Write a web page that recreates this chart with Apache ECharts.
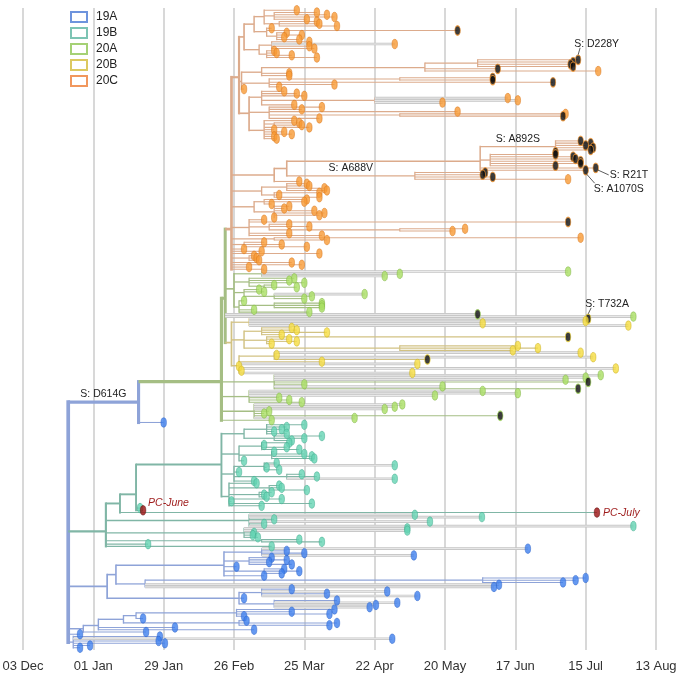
<!DOCTYPE html>
<html><head><meta charset="utf-8">
<script src="https://cdn.jsdelivr.net/npm/echarts/dist/echarts.min.js"></script>
<style>html,body{margin:0;padding:0;background:#fff}#c{width:683px;height:676px}</style>
</head><body><div id="c"></div>
<script>
// ---------- DATA ----------
// x values are days after 03 Dec; a tip is a number (date) or "date+flags@label";
// flags: k = spike-mutation (black) tip, g = grey branch, r = PC sample; "#clade" sets clade, "@text" labels a branch
const tickLabels = ['03 Dec','01 Jan','29 Jan','26 Feb','25 Mar','22 Apr','20 May','17 Jun','15 Jul','13 Aug'];
const cladeNames = ['19A','19B','20A','20B','20C'];

const c20C_U1 = [88,
  [92, [96, 109, [100, 117, 121, 124, 113], [102, 117, 118, 125]], [97, 99, "173k", [101, 105, 111, 104, 110]]],
  [94, [99, 114, "148g", 114, 116], [97, 100, 101, 107, 117]]
];
const c20C_U2 = [87,
  [95, [160, [181, "221k@S: D228Y", "219k", "218k", "219k"], "189k", 229], 106, 106],
  [98, [150, "187k", "187k"], "211k", 124, 102],
  88
];
const c20C_U3 = [90,
  [95, 104, 109, 112, [140, "193g", "197g", "167g"], 108],
  [98, 119, 111, 173, [150, 216, "215k"], 118],
  [96, 108, [100, 110, 111], 114, 100, 104, 107, 100, 101]
];
const c20C_M = [100,
  [105,
    [182,
      [212, '@S: A892S', "222k", "226k", "224k", "227k", "226k", "212k"],
      [186, "212k", "219k", "220k", "222k", "222k", "212k"],
      "228k@S: R21T", "224k@S: A1070S"],
    [156, '@S: A688V', "184k", "183k", "187k", 217]],
  110
];
const c20C_L = [
  [95, [105, 113, 114, 120, 121], [100, 118, 102, 118]],
  [92, [96, 113, 112, 99], [100, 106, 104, 116, 120, 118, 100]],
  [90, 96, "217k", [98, 106, 114, [150, 176, 171]], 106, 119],
  [100, 222, 121],
  [88, 96, 103, 113],
  88, 95, 118, [90, 92, 93, 94], 107, 111, 90, 96
];
const tree20C = [83, '#20C', [86, c20C_U1, c20C_U2, c20C_U3], c20C_M, ...c20C_L];

const c20A_top = [84,
  [95, "217g", "150g", "144g"],
  [90, 108, 106, 112, [96, 100, 109]],
  [88, 94, 96, [100, "136g", 115, 112]],
  [86, 88, [100, 119, 119, 119], 92, 114]
];
const c20B = [83, '#20B',
  [90, "225kg@S: T732A", "224g", "183g", "241g"],
  [88, [95, 107, 109, 121, 103], [97, "217k", 106, 109, 99], [150, 197, 205, 195]],
  [86, [100, "222g", 101, "227g", "161k"], 119, "157g", 86, "236g", 87, "155g"]
];
const c20A_low = [
  [100, "230g", "224g", "216g", "225k", 112, "167g", "221k"],
  [90, "183g", "197g", "164g", 102, 106, 111],
  [92, "151g", "148g", "144g", 98, 96, "190k", "132g"],
  99
];
const tree20A = [79, '#20A', [80.5, tree20C, c20A_top, "181kg", "243g", c20B], ...c20A_low];
const nodeD614G = [46, '@S: D614G', tree20A, 56];

const c19B_main = [79,
  [88, [97, 112, 105, 103, 100, 105], [100, 119, 112, 107]],
  [86, [95, 106, 96, 105, 110], [99, 100, 112, 115, 116], 88],
  [84, [96, 101, "148g", 97, 102], 86, [105, 111, 117, "148g"], 92],
  [82, 93, [98, 102, 103, 113], [94, 99, 96, 97], 103, 83, 115, 95]
];
const tree19B = [33, '#19B',
  [38.6, [45, c19B_main, 46.6, "47.8r@PC-June"], "228.5r@PC-July"],
  [90, "156g", "182.7g", 100, "162g", 96, "243g"],
  [88, "153g", "153g", 92, 91.5, 93.5],
  [95, 110, 119],
  49.8, 99
];

const c19A_top = [80, [95, "201g", 105, 112, "155.6g"], [90, 99, 105, 98, 107], 85, [96, 104, 110, 103], 96];
const c19A_long = [48.6, [183, 224, 220, 215], "189.5g", "187.5g"];
const c19A_mid = [86, [95, 107, "145g", 121, "157g"], 88, [100, 125, "149g", "140.5g", "138g"]];
const c19A_bot = [24, [30, [40, [45, [85, 124, 107, 122, 88], 47.8], [86, 89, 125, 122]], 60.5, 92], 49];
const c19A_base = [20, 54.5, "147g", 54, 56.5, 26.7, 22.7];
const treeRoot = [18, '#19A', nodeD614G, tree19B, [33.5, [37, c19A_top, c19A_long], c19A_mid], c19A_bot, 22.7, c19A_base];

// ---------- STYLE ----------
const SANS = "'Liberation Sans',Arial,Helvetica,sans-serif";
const branchColor = {'19A':'#8ea3d8','19B':'#80b6a6','20A':'#a5be84','20B':'#d2c283','20C':'#dcab8c'};
const tipFill = {'19A':'#3f80ee','19B':'#64d3b3','20A':'#a9df63','20B':'#f5dc40','20C':'#f89a35'};
const tipStroke = {'19A':'#2a62c8','19B':'#3fa98b','20A':'#7fb344','20B':'#c9ae1d','20C':'#d9761a'};
const legendColor = {'19A':'#4a79d4','19B':'#5db5a1','20A':'#8fc652','20B':'#d3bb3a','20C':'#ee7d35'};
const annotStyle = {
  'S: D228Y': {lead:[0,-5,2,-12], dx:-4, dy:-16},
  'S: R21T': {lead:[2,2,13,7], dx:14, dy:7},
  'S: A1070S': {lead:[1,4,9,13], dx:8, dy:19},
  'S: T732A': {lead:[0,-5,3,-11], dx:-3, dy:-15},
  'PC-June': {dx:5, dy:-7, italic:true, color:'#9e1b1b'},
  'PC-July': {dx:6, dy:0, italic:true, color:'#9e1b1b'}
};

// ---------- BUILD ----------
const tips = [], segs = [], notes = [];
function walk(node, pDate, clade) {
  if (!Array.isArray(node)) {
    const parts = String(node).split('@');
    const core = parts[0], label = parts[1] || null;
    const date = parseFloat(core), flags = core.replace(/[\d.]/g, '');
    const t = {date, y: tips.length, clade, black: flags.includes('k'), red: flags.includes('r'), grey: flags.includes('g'), label};
    tips.push(t);
    segs.push({x0:pDate, y0:t.y, x1:date, y1:t.y, clade, n:1, grey:t.grey, v:false});
    if (label) notes.push({kind:'tip', x:date, y:t.y, text:label});
    return {y:t.y, n:1};
  }
  const date = node[0]; let c = clade, bl = null; const kids = [];
  node.slice(1).forEach(e => {
    if (typeof e === 'string' && e[0] === '#') c = e.slice(1);
    else if (typeof e === 'string' && e[0] === '@') bl = e.slice(1);
    else kids.push(e);
  });
  const r = kids.map(k => walk(k, date, c));
  const y = r.reduce((a, b) => a + b.y, 0) / r.length;
  const n = r.reduce((a, b) => a + b.n, 0);
  segs.push({x0:date, y0:r[0].y, x1:date, y1:r[r.length-1].y, clade:c, n, v:true});
  if (pDate !== null) segs.push({x0:pDate, y0:y, x1:date, y1:y, clade:c, n, v:false});
  if (bl) notes.push({kind:'branch', x:(pDate + date) / 2, y, text:bl});
  return {y, n};
}
walk(treeRoot, null, '19A');
const N = tips.length;
const lw = n => 0.9 + 2.8 * Math.sqrt(n / N);
segs.sort((a, b) => b.n - a.n);

const chart = echarts.init(document.getElementById('c'), null, {renderer:'canvas'});
chart.setOption({
  animation: false,
  backgroundColor: '#fff',
  grid: {left: 23, top: 8, bottom: 26, width: 703.33, containLabel: false, outerBoundsMode: 'none'},
  xAxis: {
    type: 'value', min: 0, max: 280, interval: 28,
    axisLine: {show: false}, axisTick: {show: false},
    splitLine: {show: true, lineStyle: {color: '#cfcfcf', width: 1.6}},
    axisLabel: {
      margin: 10, color: '#333', fontSize: 13, fontFamily: SANS,
      formatter: v => { const i = Math.round(v / 28); return (Math.abs(v - i * 28) < 1e-6 && i < tickLabels.length) ? tickLabels[i] : ''; }
    }
  },
  yAxis: {type: 'value', inverse: true, min: -1, max: N, show: false, splitLine: {show: false}},
  legend: {
    left: 70, top: 11, orient: 'vertical', itemWidth: 16, itemHeight: 10, itemGap: 4, padding: 0,
    selectedMode: false,
    textStyle: {fontSize: 12, lineHeight: 12, fontFamily: SANS, color: '#222', padding: [0, 0, 0, 4]},
    data: cladeNames.map(n => ({name: n, icon: 'rect', itemStyle: {color: '#fff', borderColor: legendColor[n], borderWidth: 2}}))
  },
  series: [
    ...cladeNames.map(n => ({type: 'scatter', name: n, data: [], itemStyle: {color: '#fff', borderColor: legendColor[n], borderWidth: 2}})),
    {
      type: 'custom', name: 'branches', z: 2, silent: true,
      data: segs.map(s => [s.x0, s.y0, s.x1, s.y1]),
      encode: {x: [0, 2], y: [1, 3]},
      renderItem: (params, api) => {
        const s = segs[params.dataIndex];
        const a = api.coord([s.x0, s.y0]), b = api.coord([s.x1, s.y1]);
        const shape = {x1: a[0], y1: a[1], x2: b[0], y2: b[1]};
        if (s.grey) return {type: 'group', children: [
          {type: 'line', shape, style: {stroke: '#c4c4c4', lineWidth: 2.6, lineCap: 'butt'}},
          {type: 'line', shape, style: {stroke: '#f0f0f0', lineWidth: 0.9}}]};
        return {type: 'line', shape, style: {stroke: branchColor[s.clade], lineWidth: lw(s.n), lineCap: s.v ? 'square' : 'butt'}};
      }
    },
    {
      type: 'scatter', name: 'tips', z: 4, silent: true,
      symbol: 'circle', symbolSize: [5.5, 9.5],
      data: tips.map(t => ({
        value: [t.date, t.y],
        itemStyle: t.red ? {color: '#9a1010', borderColor: '#5a0000', borderWidth: 0.6}
          : t.black ? {color: '#0d0d0d', borderColor: tipFill[t.clade], borderWidth: 1}
          : {color: tipFill[t.clade], borderColor: tipStroke[t.clade], borderWidth: 0.6}
      }))
    },
    {
      type: 'custom', name: 'notes', z: 6, silent: true,
      data: notes.map(o => [o.x, o.y]),
      encode: {x: 0, y: 1},
      renderItem: (params, api) => {
        const o = notes[params.dataIndex];
        const p = api.coord([o.x, o.y]);
        if (o.kind === 'branch') return {type: 'text', x: p[0], y: p[1] - 2,
          style: {text: o.text, fill: '#222', fontSize: 10.5, fontFamily: SANS, align: 'center', verticalAlign: 'bottom'}};
        const st = annotStyle[o.text] || {dx: 5, dy: 0};
        const children = [];
        if (st.lead) children.push({type: 'line', shape: {x1: p[0] + st.lead[0], y1: p[1] + st.lead[1], x2: p[0] + st.lead[2], y2: p[1] + st.lead[3]}, style: {stroke: '#333', lineWidth: 0.8}});
        children.push({type: 'text', x: p[0] + st.dx, y: p[1] + st.dy,
          style: {text: o.text, fill: st.color || '#222', fontSize: 10.5, fontFamily: SANS, fontStyle: st.italic ? 'italic' : 'normal', align: 'left', verticalAlign: 'middle'}});
        return {type: 'group', children};
      }
    }
  ]
});
</script></body></html>
